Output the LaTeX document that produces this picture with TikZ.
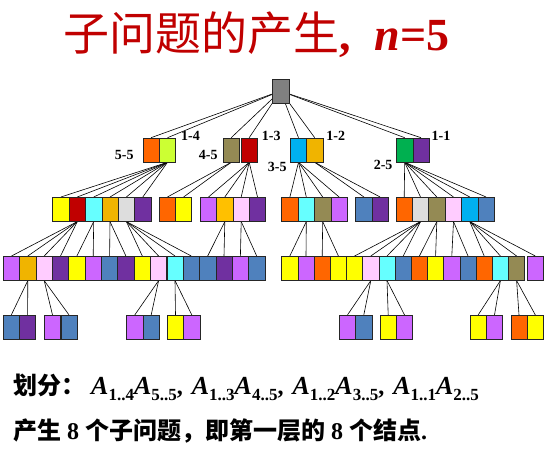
\documentclass[tikz,border=0pt]{standalone}
\usepackage{fontspec}
\setmainfont{Liberation Serif}
\newfontfamily\cjk{Noto Sans CJK SC}
\pgfdeclarelayer{bg}
\pgfsetlayers{bg,main}

\definecolor{cgray}{HTML}{808080}
\definecolor{corange}{HTML}{FF6600}
\definecolor{clime}{HTML}{CCFF33}
\definecolor{colive}{HTML}{948A54}
\definecolor{cred}{HTML}{C00000}
\definecolor{csky}{HTML}{00B0F0}
\definecolor{cgold}{HTML}{F0B400}
\definecolor{cgoldb}{HTML}{FFC000}
\definecolor{cgreen}{HTML}{00B050}
\definecolor{cpurple}{HTML}{7030A0}
\definecolor{cyellow}{HTML}{FFFF00}
\definecolor{caqua}{HTML}{66FFFF}
\definecolor{clgray}{HTML}{DDDDDD}
\definecolor{cviolet}{HTML}{CC66FF}
\definecolor{cpink}{HTML}{FFCCFF}
\definecolor{csteel}{HTML}{4F81BD}

\newcommand{\Asub}[1]{{\fontsize{26}{26}\selectfont\textbf{\textit{A}}}\raisebox{-0.28em}{\fontsize{17}{17}\selectfont\textbf{#1}}}
\newcommand{\dou}{\textbf{,}\hspace{9pt}}

\begin{document}
\begin{tikzpicture}[x=1pt,y=-1pt,
  bx/.style={draw=black!85,line width=0.6pt,minimum width=16.3pt,minimum height=24pt,inner sep=0pt},
  lbl/.style={font=\bfseries\fontsize{14}{14}\selectfont,inner sep=1pt}]
\useasboundingbox (0,0) rectangle (548,451);

% title
\node[anchor=base west,text=cred,font=\fontsize{46}{46}\selectfont,inner sep=0pt] (title) at (63,50)
  {{\cjk 子问题的产生}\textbf{,\hspace{24pt}\textit{n}=5}};

% root
\node[bx,fill=cgray,minimum width=17pt] (r) at (280.5,91) {};

% level-1
\def\ya{150}
\node[bx,fill=corange] (s55) at (151,\ya) {};
\node[bx,fill=clime]   (s14) at (167.5,\ya) {};
\node[bx,fill=colive]  (s45) at (231.2,\ya) {};
\node[bx,fill=cred]    (s13) at (249.2,\ya) {};
\node[bx,fill=csky]    (s35) at (298.5,\ya) {};
\node[bx,fill=cgold]   (s12) at (314.7,\ya) {};
\node[bx,fill=cgreen]  (s25) at (404.7,\ya) {};
\node[bx,fill=cpurple] (s11) at (421,\ya) {};

\node[lbl,anchor=west] (t14) at ([xshift=4pt,yshift=2pt]s14.north east) {1-4};
\node[lbl,anchor=east] (t55) at ([xshift=-7.7pt,yshift=7pt]s55.south west) {5-5};
\node[lbl,anchor=west] (t13) at ([xshift=3pt,yshift=2pt]s13.north east) {1-3};
\node[lbl,anchor=east] (t45) at ([xshift=-4pt,yshift=7pt]s45.south west) {4-5};
\node[lbl,anchor=west] (t12) at ([xshift=2pt,yshift=2pt]s12.north east) {1-2};
\node[lbl,anchor=east] (t35) at ([xshift=-2.3pt,yshift=-5pt]s35.south west) {3-5};
\node[lbl,anchor=west] (t11) at ([xshift=1pt,yshift=2pt]s11.north east) {1-1};
\node[lbl,anchor=east] (t25) at ([xshift=-2.6pt,yshift=-3pt]s25.south west) {2-5};

% level-2
\def\yb{209.3}
\node[bx,fill=cyellow] (a44) at (60.9,\yb) {};
\node[bx,fill=cred]    (a13) at (77.3,\yb) {};
\node[bx,fill=caqua]   (a34) at (93.7,\yb) {};
\node[bx,fill=cgold]   (a12) at (110,\yb) {};
\node[bx,fill=clgray]  (a24) at (126.4,\yb) {};
\node[bx,fill=cpurple] (a11) at (142.8,\yb) {};
\node[bx,fill=corange] (b55) at (167.4,\yb) {};
\node[bx,fill=cyellow] (b44) at (183.6,\yb) {};
\node[bx,fill=cviolet] (c33) at (208.5,\yb) {};
\node[bx,fill=cgoldb]  (c12) at (224.8,\yb) {};
\node[bx,fill=cpink]   (c23) at (241.2,\yb) {};
\node[bx,fill=cpurple] (c11) at (257.5,\yb) {};
\node[bx,fill=corange] (d55) at (289.9,\yb) {};
\node[bx,fill=caqua]   (d34) at (306.3,\yb) {};
\node[bx,fill=colive]  (d45) at (322.7,\yb) {};
\node[bx,fill=cviolet] (d33) at (339.1,\yb) {};
\node[bx,fill=csteel]  (e22) at (363.9,\yb) {};
\node[bx,fill=cpurple] (e11) at (380.1,\yb) {};
\node[bx,fill=corange] (f55) at (404.2,\yb) {};
\node[bx,fill=clgray]  (f24) at (420.5,\yb) {};
\node[bx,fill=colive]  (f45) at (436.8,\yb) {};
\node[bx,fill=cpink]   (f23) at (453.5,\yb) {};
\node[bx,fill=csky]    (f35) at (469.8,\yb) {};
\node[bx,fill=csteel]  (f22) at (486.1,\yb) {};

% level-3 left
\def\yc{268.3}
\node[bx,fill=cviolet] (u1) at (11.5,\yc) {};
\node[bx,fill=cgold]   (u2) at (27.8,\yc) {};
\node[bx,fill=cpink]   (u3) at (44.2,\yc) {};
\node[bx,fill=cpurple] (u4) at (60.5,\yc) {};
\node[bx,fill=cyellow] (u5) at (76.9,\yc) {};
\node[bx,fill=cviolet] (u6) at (93.2,\yc) {};
\node[bx,fill=csteel]  (u7) at (109.6,\yc) {};
\node[bx,fill=cpurple] (u8) at (125.9,\yc) {};
\node[bx,fill=cyellow] (u9) at (142.3,\yc) {};
\node[bx,fill=cpink]   (u10) at (158.6,\yc) {};
\node[bx,fill=caqua]   (u11) at (175,\yc) {};
\node[bx,fill=csteel]  (u12) at (191.3,\yc) {};
\node[bx,fill=csteel]  (u13) at (207.7,\yc) {};
\node[bx,fill=cpurple] (u14) at (224,\yc) {};
\node[bx,fill=cviolet] (u15) at (240.4,\yc) {};
\node[bx,fill=csteel]  (u16) at (256.7,\yc) {};

% level-3 right
\node[bx,fill=cyellow] (v1) at (289.8,\yc) {};
\node[bx,fill=cviolet] (v2) at (306,\yc) {};
\node[bx,fill=corange] (v3) at (322.2,\yc) {};
\node[bx,fill=cyellow] (v4) at (338.4,\yc) {};
\node[bx,fill=cyellow] (v5) at (354.6,\yc) {};
\node[bx,fill=cpink]   (v6) at (370.8,\yc) {};
\node[bx,fill=caqua]   (v7) at (387,\yc) {};
\node[bx,fill=csteel]  (v8) at (403.2,\yc) {};
\node[bx,fill=corange] (v9) at (419.4,\yc) {};
\node[bx,fill=cyellow] (v10) at (435.6,\yc) {};
\node[bx,fill=cviolet] (v11) at (451.8,\yc) {};
\node[bx,fill=csteel]  (v12) at (468,\yc) {};
\node[bx,fill=corange] (v13) at (484.2,\yc) {};
\node[bx,fill=caqua]   (v14) at (500.4,\yc) {};
\node[bx,fill=colive]  (v15) at (516.6,\yc) {};
\node[bx,fill=cviolet] (v16) at (535.3,\yc) {};

% level-4
\def\yd{327.2}
\node[bx,fill=csteel]  (w1) at (11.3,\yd) {};
\node[bx,fill=cpurple] (w2) at (27.6,\yd) {};
\node[bx,fill=cviolet] (w3) at (52.5,\yd) {};
\node[bx,fill=csteel]  (w4) at (69,\yd) {};
\node[bx,fill=cviolet] (w5) at (134.8,\yd) {};
\node[bx,fill=csteel]  (w6) at (151.2,\yd) {};
\node[bx,fill=cyellow] (w7) at (175.5,\yd) {};
\node[bx,fill=cviolet] (w8) at (191.8,\yd) {};
\node[bx,fill=cviolet] (w9) at (347.5,\yd) {};
\node[bx,fill=csteel]  (w10) at (363.8,\yd) {};
\node[bx,fill=cyellow] (w11) at (388.2,\yd) {};
\node[bx,fill=cviolet] (w12) at (404.5,\yd) {};
\node[bx,fill=cyellow] (w13) at (478.2,\yd) {};
\node[bx,fill=cviolet] (w14) at (494.5,\yd) {};
\node[bx,fill=corange] (w15) at (519,\yd) {};
\node[bx,fill=cyellow] (w16) at (535.3,\yd) {};

% connectors
\begin{pgfonlayer}{bg}
\draw[line width=0.6pt] (r.center) edge (s55.north) edge (s14.north) edge (s45.north) edge (s13.north)
  edge (s35.north) edge (s12.north) edge (s25.north) edge (s11.north);
\draw[line width=0.6pt] (s14.south) edge (a44.north) edge (a13.north) edge (a34.north) edge (a12.north) edge (a24.north) edge (a11.north);
\draw[line width=0.6pt] (s45.south) edge (b55.north) edge (b44.north);
\draw[line width=0.6pt] (s13.south) edge (c33.north) edge (c12.north) edge (c23.north) edge (c11.north);
\draw[line width=0.6pt] (s35.south) edge (d55.north) edge (d34.north) edge (d45.north) edge (d33.north);
\draw[line width=0.6pt] (s12.south) edge (e22.north) edge (e11.north);
\draw[line width=0.6pt] (s25.south) edge (f55.north) edge (f24.north) edge (f45.north) edge (f23.north) edge (f35.north) edge (f22.north);
% to level-3
\draw[line width=0.6pt] (a13.south) edge (u1.north) edge (u2.north) edge (u3.north) edge (u4.north);
\draw[line width=0.6pt] (a34.south) edge (u5.north) edge (u6.north);
\draw[line width=0.6pt] (a12.south) edge (u7.north) edge (u8.north);
\draw[line width=0.6pt] (a24.south) edge (u9.north) edge (u10.north) edge (u11.north) edge (u12.north);
\draw[line width=0.6pt] (c12.south) edge (u13.north) edge (u14.north);
\draw[line width=0.6pt] (c23.south) edge (u15.north) edge (u16.north);
\draw[line width=0.6pt] (d34.south) edge (v1.north) edge (v2.north);
\draw[line width=0.6pt] (d45.south) edge (v3.north) edge (v4.north);
\draw[line width=0.6pt] (f24.south) edge (v5.north) edge (v6.north) edge (v7.north) edge (v8.north);
\draw[line width=0.6pt] (f45.south) edge (v9.north) edge (v10.north);
\draw[line width=0.6pt] (f23.south) edge (v11.north) edge (v12.north);
\draw[line width=0.6pt] (f35.south) edge (v13.north) edge (v14.north) edge (v15.north) edge (v16.north);
% to level-4
\draw[line width=0.6pt] (u2.south) edge (w1.north) edge (w2.north);
\draw[line width=0.6pt] (u3.south) edge (w3.north) edge (w4.north);
\draw[line width=0.6pt] (u10.south) edge (w5.north) edge (w6.north);
\draw[line width=0.6pt] (u11.south) edge (w7.north) edge (w8.north);
\draw[line width=0.6pt] (v6.south) edge (w9.north) edge (w10.north);
\draw[line width=0.6pt] (v7.south) edge (w11.north) edge (w12.north);
\draw[line width=0.6pt] (v14.south) edge (w13.north) edge (w14.north);
\draw[line width=0.6pt] (v15.south) edge (w15.north) edge (w16.north);
\end{pgfonlayer}

% text below
\node[anchor=base west,inner sep=0pt,font=\fontsize{24}{24}\selectfont] (line1) at (13,394)
  {{\cjk\bfseries 划分：}\hspace{6pt}\Asub{1..4}\Asub{5..5}\dou\Asub{1..3}\Asub{4..5}\dou\Asub{1..2}\Asub{3..5}\dou\Asub{1..1}\Asub{2..5}};
\node[anchor=base west,inner sep=0pt,font=\fontsize{24}{24}\selectfont] (line2) at (13,439)
  {{\cjk\bfseries 产生}\textbf{ 8 }{\cjk\bfseries 个子问题，即第一层的}\textbf{ 8 }{\cjk\bfseries 个结点}\textbf{.}};
\end{tikzpicture}
\end{document}
